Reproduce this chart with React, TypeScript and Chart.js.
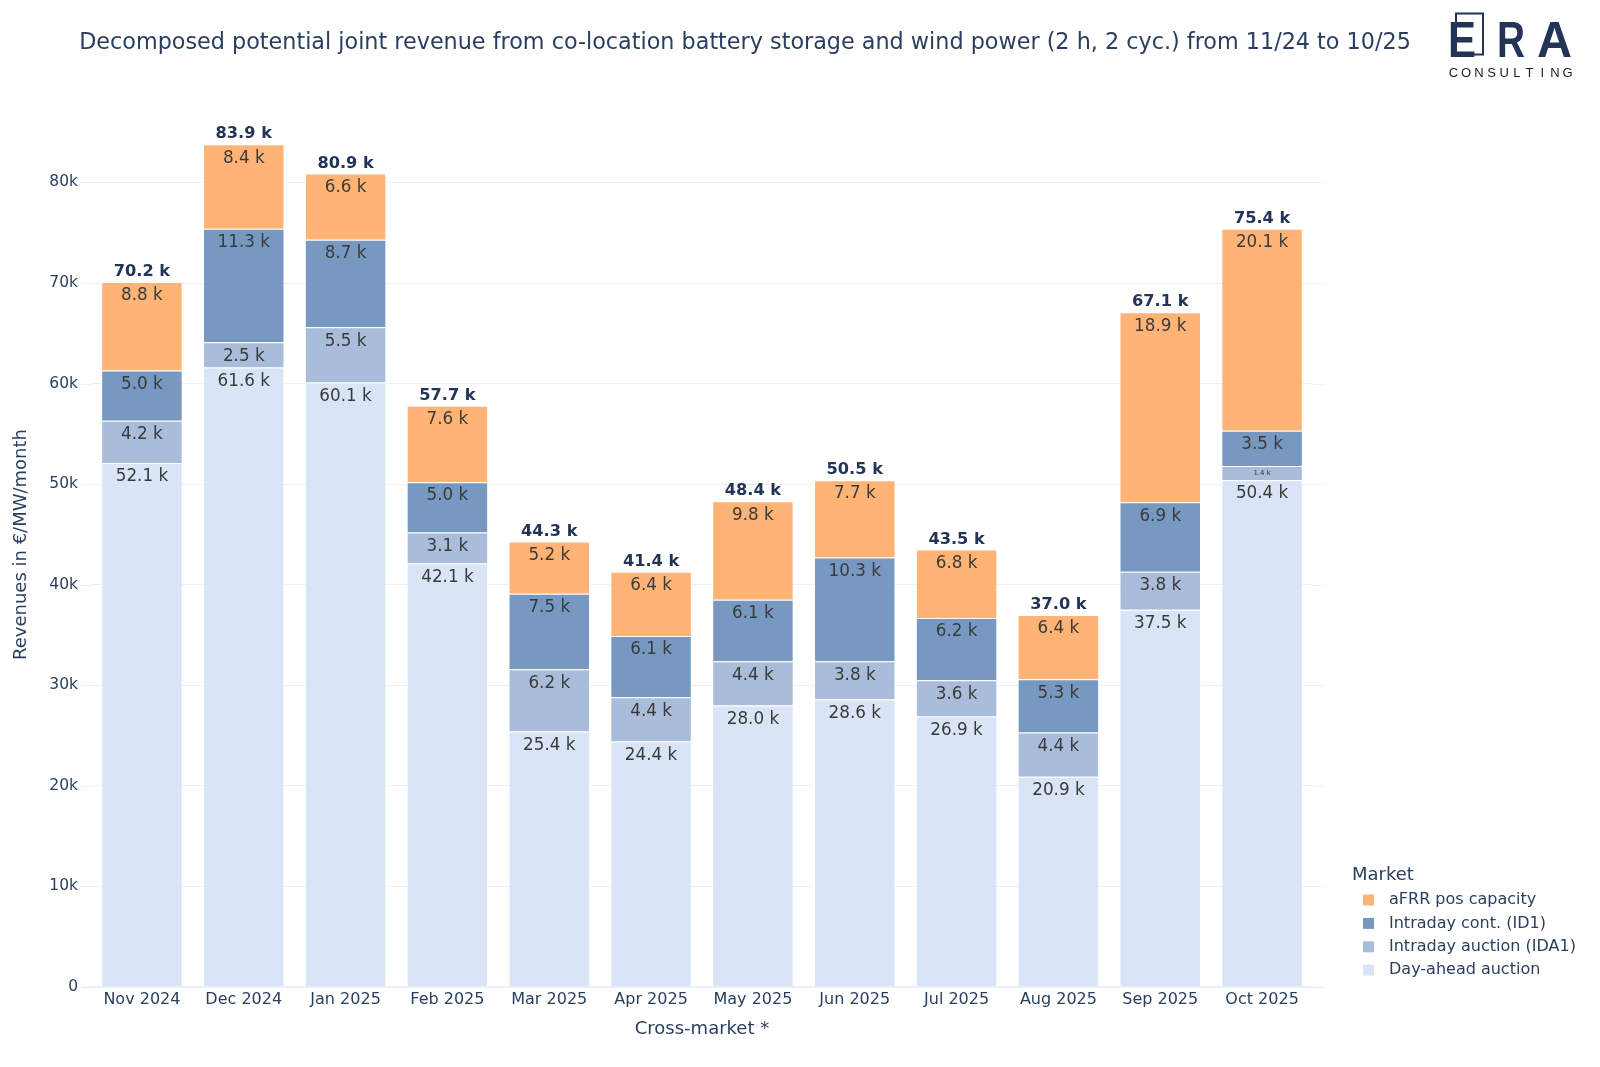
import React, { useEffect, useRef } from "react";
import { Chart, registerables } from "chart.js";
import type { Plugin } from "chart.js";

Chart.register(...registerables);

// values in k€/MW/month
const months = [
  "Nov 2024", "Dec 2024", "Jan 2025", "Feb 2025", "Mar 2025", "Apr 2025",
  "May 2025", "Jun 2025", "Jul 2025", "Aug 2025", "Sep 2025", "Oct 2025",
];
const dayAhead = [52.1, 61.6, 60.1, 42.1, 25.4, 24.4, 28.0, 28.6, 26.9, 20.9, 37.5, 50.4];
const intradayAuction = [4.2, 2.5, 5.5, 3.1, 6.2, 4.4, 4.4, 3.8, 3.6, 4.4, 3.8, 1.4];
const intradayCont = [5.0, 11.3, 8.7, 5.0, 7.5, 6.1, 6.1, 10.3, 6.2, 5.3, 6.9, 3.5];
const afrrPos = [8.8, 8.4, 6.6, 7.6, 5.2, 6.4, 9.8, 7.7, 6.8, 6.4, 18.9, 20.1];
const totals = [70.2, 83.9, 80.9, 57.7, 44.3, 41.4, 48.4, 50.5, 43.5, 37.0, 67.1, 75.4];

const seriesNames = ["Day-ahead auction", "Intraday auction (IDA1)", "Intraday cont. (ID1)", "aFRR pos capacity"];
const seriesColors = ["#d9e5f6", "#a9bcd9", "#7799c1", "#ffb374"];

const FONT = "'DejaVu Sans', Verdana, sans-serif";
const INK = "#2a3f5f";
const NAVY = "#233556";
const GRID = "#ebf0f8";

const barLabels: Plugin<"bar"> = {
  id: "barLabels",
  afterDatasetsDraw(chart) {
    const ctx = chart.ctx;
    ctx.save();
    ctx.textAlign = "center";
    ctx.textBaseline = "middle";
    chart.data.datasets.forEach((ds, di) => {
      const meta = chart.getDatasetMeta(di);
      meta.data.forEach((el: any, i) => {
        const v = ds.data[i] as number;
        const h = el.base - el.y;
        ctx.fillStyle = "#3a3a3a";
        if (h < 20) {
          ctx.font = `7px ${FONT}`;
          ctx.fillText(`${v.toFixed(1)} k`, el.x, (el.y + el.base) / 2);
        } else {
          ctx.font = `16.8px ${FONT}`;
          ctx.fillText(`${v.toFixed(1)} k`, el.x, el.y + 14);
        }
      });
    });
    // totals above the stack
    const top = chart.getDatasetMeta(chart.data.datasets.length - 1);
    ctx.font = `bold 16.2px ${FONT}`;
    ctx.fillStyle = NAVY;
    top.data.forEach((el: any, i) => {
      ctx.fillText(`${totals[i].toFixed(1)} k`, el.x, el.y - 10);
    });
    ctx.restore();
  },
};

// plotly's grid runs a little past the outer bars on both sides
const gridOverhang: Plugin<"bar"> = {
  id: "gridOverhang",
  beforeDatasetsDraw(chart) {
    const ctx = chart.ctx;
    const y = chart.scales.y;
    const { left, right } = chart.chartArea;
    ctx.save();
    ctx.strokeStyle = GRID;
    y.ticks.forEach((t) => {
      const py = Math.round(y.getPixelForValue(t.value)) + 0.5;
      ctx.lineWidth = t.value === 0 ? 2 : 1;
      ctx.beginPath();
      ctx.moveTo(left - 10, py);
      ctx.lineTo(left, py);
      ctx.moveTo(right, py);
      ctx.lineTo(right + 11, py);
      ctx.stroke();
    });
    ctx.restore();
  },
};

const decorations: Plugin<"bar"> = {
  id: "decorations",
  afterDraw(chart) {
    const ctx = chart.ctx;
    ctx.save();

    // title
    ctx.fillStyle = INK;
    ctx.font = `22.3px ${FONT}`;
    ctx.textAlign = "center";
    ctx.textBaseline = "middle";
    ctx.fillText(
      "Decomposed potential joint revenue from co-location battery storage and wind power (2 h, 2 cyc.) from 11/24 to 10/25",
      745, 43
    );

    // logo
    ctx.strokeStyle = NAVY;
    ctx.lineWidth = 2;
    ctx.strokeRect(1456, 13.5, 27, 41);
    ctx.fillStyle = NAVY;
    ctx.font = `bold 50px 'Liberation Sans', Arial, sans-serif`;
    ctx.textAlign = "left";
    ctx.textBaseline = "alphabetic";
    ctx.fillText("E", 1448, 57, 28);
    ctx.fillText("R", 1497, 57, 28);
    ctx.fillText("A", 1537, 57, 35);
    ctx.fillStyle = "#222222";
    ctx.font = `13px 'Liberation Sans', Arial, sans-serif`;
    ctx.textAlign = "center";
    ctx.textBaseline = "middle";
    "CONSULTING".split("").forEach((c, i) => {
      ctx.fillText(c, 1453.5 + i * 12.67, 73);
    });

    // legend
    ctx.textAlign = "left";
    ctx.fillStyle = INK;
    ctx.font = `18px ${FONT}`;
    ctx.fillText("Market", 1352, 875);
    ctx.font = `16px ${FONT}`;
    const n = chart.data.datasets.length;
    for (let k = 0; k < n; k++) {
      const ds = chart.data.datasets[n - 1 - k];
      const y = 900 + k * 23.4;
      ctx.fillStyle = ds.backgroundColor as string;
      ctx.fillRect(1363, y - 5.5, 11, 11);
      ctx.fillStyle = INK;
      ctx.fillText(ds.label as string, 1389, y);
    }
    ctx.restore();
  },
};

export default function App() {
  const canvasRef = useRef<HTMLCanvasElement>(null);
  const chartRef = useRef<Chart | null>(null);

  useEffect(() => {
    document.body.style.margin = "0";
    document.body.style.overflow = "hidden";
    if (!canvasRef.current) return;
    chartRef.current?.destroy();

    const series = [dayAhead, intradayAuction, intradayCont, afrrPos];

    chartRef.current = new Chart(canvasRef.current, {
      type: "bar",
      data: {
        labels: months,
        datasets: series.map((values, i) => ({
          label: seriesNames[i],
          data: values,
          backgroundColor: seriesColors[i],
          borderColor: "rgba(255,255,255,0.75)",
          borderWidth: 1,
          barPercentage: 0.8,
          categoryPercentage: 1,
        })),
      },
      options: {
        animation: false,
        responsive: true,
        maintainAspectRatio: false,
        layout: { padding: { top: 102, right: 287, left: 0, bottom: 0 } },
        plugins: {
          legend: { display: false },
          title: { display: false },
          tooltip: { enabled: false },
        },
        scales: {
          x: {
            stacked: true,
            grid: { display: false, drawTicks: false },
            border: { display: false },
            ticks: { color: INK, font: { size: 16, family: FONT }, padding: 3, maxRotation: 0 },
            title: {
              display: true,
              text: "Cross-market *",
              color: INK,
              font: { size: 18, family: FONT },
              padding: { top: 0, bottom: 27 },
            },
            afterFit: (scale) => {
              scale.height = 80;
            },
          },
          y: {
            stacked: true,
            min: 0,
            max: 88,
            border: { display: false },
            grid: {
              color: GRID,
              drawTicks: false,
              lineWidth: (c) => (c.tick && c.tick.value === 0 ? 2 : 1),
            },
            ticks: {
              stepSize: 10,
              includeBounds: false,
              color: INK,
              padding: 13,
              font: { size: 15.5, family: FONT },
              callback: (v) => (Number(v) === 0 ? "0" : `${v}k`),
            },
            title: {
              display: true,
              text: "Revenues in €/MW/month",
              color: INK,
              font: { size: 18, family: FONT },
              padding: { top: 11, bottom: 0 },
            },
            afterFit: (scale) => {
              scale.width = 91;
            },
          },
        },
      },
      plugins: [gridOverhang, barLabels, decorations],
    });

    return () => {
      chartRef.current?.destroy();
      chartRef.current = null;
    };
  }, []);

  return (
    <div style={{ width: 1600, height: 1067, position: "relative", background: "#fff" }}>
      <canvas ref={canvasRef} />
    </div>
  );
}
